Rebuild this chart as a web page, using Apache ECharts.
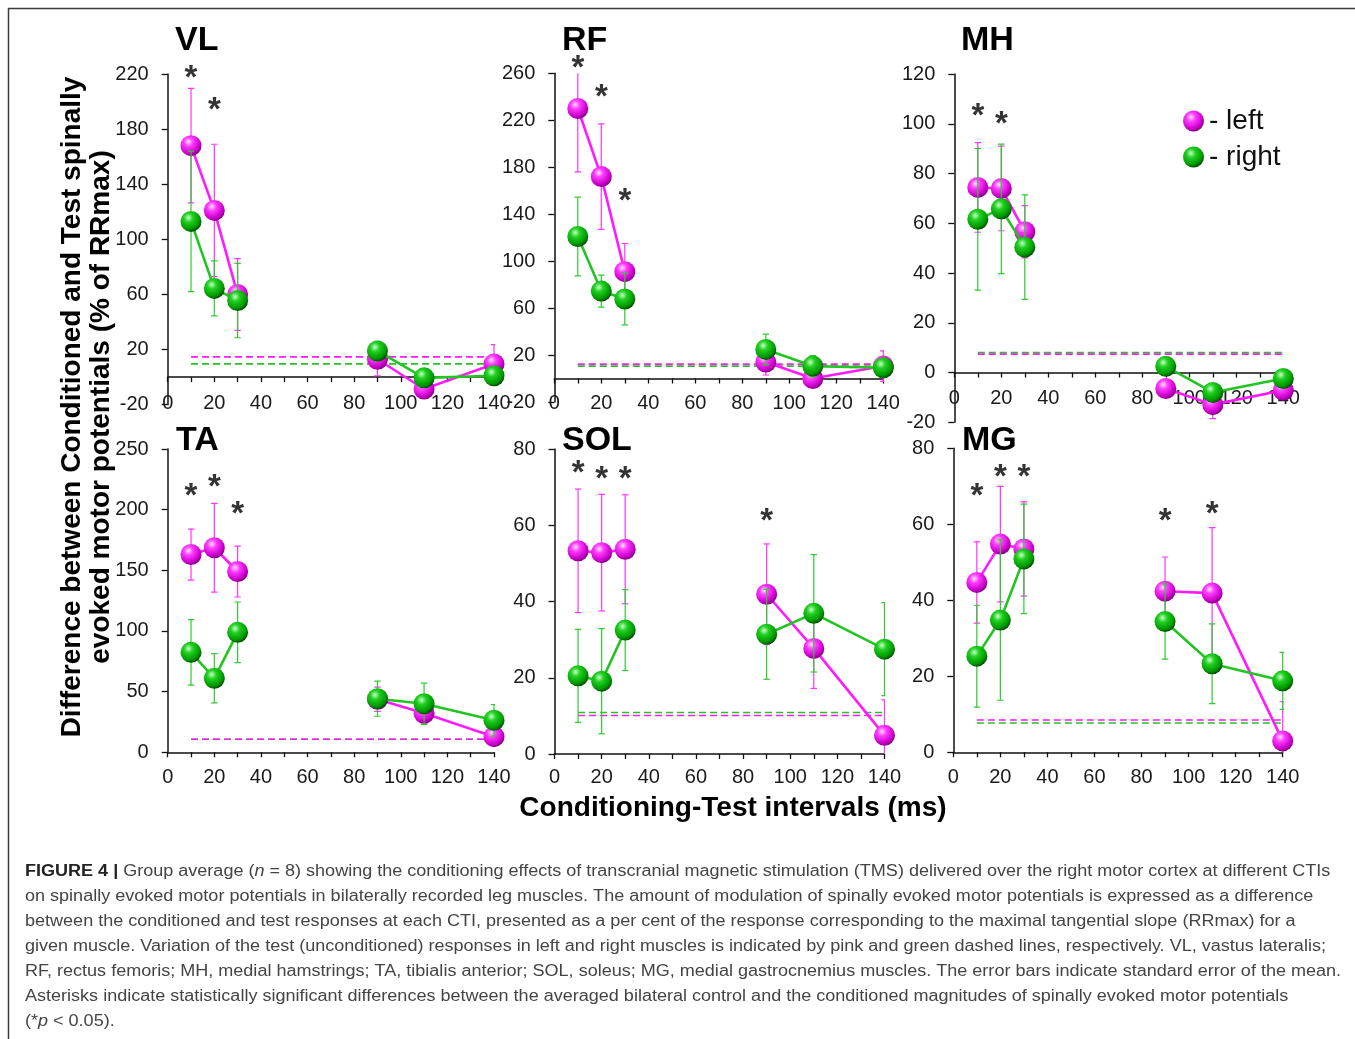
<!DOCTYPE html>
<html><head><meta charset="utf-8">
<script src="https://cdn.jsdelivr.net/npm/echarts@6/dist/echarts.min.js"></script>
<style>html,body{margin:0;padding:0;background:#fff}#c{width:1355px;height:1039px}</style>
</head><body><div id="c"></div>
<script>
// ---------- DATA ----------
const ctiX = [10, 20, 30, 90, 110, 140];
const xTickLabels = [0, 20, 40, 60, 80, 100, 120, 140];

// VL
const vlLeft = [168, 121, 60, 13, -8.6, 9.6];
const vlLeftSE = [41.5, 48, 26, 12, 4, 14];
const vlRight = [113, 64.4, 55.6, 19, -0.5, 1];
const vlRightSE = [51, 20, 27, 7, 3, 3];
const vlTest = [14.7, 9.6];          // [left, right]
const vlStarX = [10, 20];
const vlStarY = [219.8, 197.2];
const vlYTicks = [-20, 20, 60, 100, 140, 180, 220];

// RF
const rfLeft = [230, 172, 91, 14, 0, 10.6];
const rfLeftSE = [54, 45, 24, 11, 3, 13];
const rfRight = [121, 74.5, 67.7, 24.8, 10.6, 9.2];
const rfRightSE = [33.5, 13.6, 22, 13, 9, 3];
const rfTest = [12.3, 10.6];
const rfStarX = [10, 20, 30];
const rfStarY = [268, 243, 155];
const rfYTicks = [-20, 20, 60, 100, 140, 180, 220, 260];

// MH
const mhLeft = [74.4, 74, 56.6, -6.4, -12.9, -7.1];
const mhLeftSE = [18, 17, 10.5, 3, 5.6, 2];
const mhRight = [61.6, 65.8, 50.4, 2.5, -8, -2.4];
const mhRightSE = [28.5, 26, 21, 2, 2, 2];
const mhTest = [7.4, 8.0];
const mhStarX = [10, 20];
const mhStarY = [104.9, 101.5];
const mhYTicks = [-20, 0, 20, 40, 60, 80, 100, 120];

// TA
const taLeft = [163, 168.6, 149, 43.7, 32.1, 12.9];
const taLeftSE = [21, 36.5, 21, 10, 8, 5];
const taRight = [82.4, 61, 98.9, 44.2, 40, 26.4];
const taRightSE = [27, 20.3, 25, 14.5, 17, 13];
const taTest = [10.7, 10.7];
const taStarX = [10, 20, 30];
const taStarY = [214.8, 221.7, 199.7];
const taYTicks = [0, 50, 100, 150, 200, 250];

// SOL
const solLeft = [53.3, 52.8, 53.7, 41.9, 27.7, 4.9];
const solLeftSE = [16.2, 15.3, 14.3, 13.2, 10.5, 9.3];
const solRight = [20.5, 19.1, 32.5, 31.4, 36.9, 27.5];
const solRightSE = [12.2, 13.8, 10.6, 11.8, 15.4, 12.2];
const solTest = [10.1, 10.9];
const solStarX = [10, 20, 30, 90];
const solStarY = [74.9, 73.2, 73.2, 62.2];
const solYTicks = [0, 20, 40, 60, 80];

// MG
const mgLeft = [44.7, 54.8, 53.5, 42.4, 41.9, 3];
const mgLeftSE = [10.7, 15.2, 12.4, 9, 17.2, 10.3];
const mgRight = [25.3, 34.8, 50.9, 34.4, 23.3, 18.8];
const mgRightSE = [13.4, 21.1, 14.4, 9.9, 10.5, 7.5];
const mgTest = [8.5, 7.7];
const mgStarX = [10, 20, 30, 90, 110];
const mgStarY = [68.6, 73.4, 73.4, 62, 63.8];
const mgYTicks = [0, 20, 40, 60, 80];

const yTitleLines = ['Difference between Conditioned and Test spinally', 'evoked motor potentials (% of RRmax)'];
const xTitle = 'Conditioning-Test intervals (ms)';
const legendNames = ['left', 'right'];
const captionLines = [
  '{b|FIGURE 4 |} Group average ({i|n} = 8) showing the conditioning effects of transcranial magnetic stimulation (TMS) delivered over the right motor cortex at different CTIs',
  'on spinally evoked motor potentials in bilaterally recorded leg muscles. The amount of modulation of spinally evoked motor potentials is expressed as a difference',
  'between the conditioned and test responses at each CTI, presented as a per cent of the response corresponding to the maximal tangential slope (RRmax) for a',
  'given muscle. Variation of the test (unconditioned) responses in left and right muscles is indicated by pink and green dashed lines, respectively. VL, vastus lateralis;',
  'RF, rectus femoris; MH, medial hamstrings; TA, tibialis anterior; SOL, soleus; MG, medial gastrocnemius muscles. The error bars indicate standard error of the mean.',
  'Asterisks indicate statistically significant differences between the averaged bilateral control and the conditioned magnitudes of spinally evoked motor potentials',
  '(*{i|p} < 0.05).'
];

// ---------- LAYOUT / STYLE ----------
const FONT = '"Liberation Sans", Arial, Helvetica, sans-serif';
// labelTop: desired top pixel of x tick labels
const panels = [
  {name: 'VL', L: vlLeft, LE: vlLeftSE, R: vlRight, RE: vlRightSE, T: vlTest, SX: vlStarX, SY: vlStarY, ticks: vlYTicks,
   grid: {left: 167.7, top: 74, width: 326.3, height: 330.7}, title: [175, 41], labelTop: 393.5},
  {name: 'RF', L: rfLeft, LE: rfLeftSE, R: rfRight, RE: rfRightSE, T: rfTest, SX: rfStarX, SY: rfStarY, ticks: rfYTicks,
   grid: {left: 554.3, top: 73.3, width: 329, height: 328.7}, title: [562, 41], labelTop: 393.5},
  {name: 'MH', L: mhLeft, LE: mhLeftSE, R: mhRight, RE: mhRightSE, T: mhTest, SX: mhStarX, SY: mhStarY, ticks: mhYTicks,
   grid: {left: 954.3, top: 74, width: 329, height: 348.3}, title: [961, 41], labelTop: 388.5},
  {name: 'TA', L: taLeft, LE: taLeftSE, R: taRight, RE: taRightSE, T: taTest, SX: taStarX, SY: taStarY, ticks: taYTicks,
   grid: {left: 167.7, top: 449, width: 326.3, height: 303.3}, title: [176, 441], labelTop: 767.5},
  {name: 'SOL', L: solLeft, LE: solLeftSE, R: solRight, RE: solRightSE, T: solTest, SX: solStarX, SY: solStarY, ticks: solYTicks,
   grid: {left: 554.5, top: 449, width: 330, height: 305}, title: [562, 441], labelTop: 767.5},
  {name: 'MG', L: mgLeft, LE: mgLeftSE, R: mgRight, RE: mgRightSE, T: mgTest, SX: mgStarX, SY: mgStarY, ticks: mgYTicks,
   grid: {left: 953.3, top: 448.3, width: 329.4, height: 304}, title: [962, 441], labelTop: 767.5}
];

const MAG = '#ff1aff', GRN = '#22c422';
const magBall = {type: 'radial', x: 0.38, y: 0.32, r: 0.72, colorStops: [
  {offset: 0, color: '#ffe0ff'}, {offset: 0.3, color: '#ff3cff'}, {offset: 0.75, color: '#cc00cc'}, {offset: 1, color: '#7a007a'}]};
const grnBall = {type: 'radial', x: 0.38, y: 0.32, r: 0.72, colorStops: [
  {offset: 0, color: '#c8ffc8'}, {offset: 0.3, color: '#22d022'}, {offset: 0.75, color: '#009a00'}, {offset: 1, color: '#004000'}]};

function errRender(color) {
  return function (params, api) {
    const x = api.value(0), y = api.value(1), e = api.value(2);
    const t = api.coord([x, y + e]), b = api.coord([x, y - e]);
    const cw = 3.2, st = {stroke: color, lineWidth: 1.2};
    return {type: 'group', children: [
      {type: 'line', shape: {x1: t[0], y1: t[1], x2: b[0], y2: b[1]}, style: st},
      {type: 'line', shape: {x1: t[0] - cw, y1: t[1], x2: t[0] + cw, y2: t[1]}, style: st},
      {type: 'line', shape: {x1: b[0] - cw, y1: b[1], x2: b[0] + cw, y2: b[1]}, style: st}
    ]};
  };
}

// split the CTIs into separately connected runs (gap between 30 and 90 ms)
const runs = [];
ctiX.forEach((x, k) => {
  if (k === 0 || x - ctiX[k - 1] > 30) runs.push([]);
  runs[runs.length - 1].push(k);
});

const grids = [], xAxes = [], yAxes = [], series = [], graphics = [];
panels.forEach((p, i) => {
  grids.push(Object.assign({outerBoundsMode: 'none', containLabel: false}, p.grid));
  const gridBottom = p.grid.top + p.grid.height;
  xAxes.push({
    type: 'value', gridIndex: i, min: 0, max: 140, interval: 10,
    axisLine: {onZero: true, lineStyle: {color: '#111', width: 1.5}},
    axisTick: {show: true, length: 5, lineStyle: {color: '#111', width: 1.3}},
    axisLabel: {margin: p.labelTop - gridBottom, fontSize: 20, color: '#1a1a1a', fontFamily: FONT,
      formatter: v => (xTickLabels.indexOf(v) >= 0 ? String(v) : '')},
    splitLine: {show: false}
  });
  const tk = p.ticks;
  yAxes.push({
    type: 'value', gridIndex: i, min: tk[0], max: tk[tk.length - 1],
    axisLine: {show: true, onZero: false, lineStyle: {color: '#111', width: 1.5}},
    axisTick: {show: true, length: 6, customValues: tk, lineStyle: {color: '#111', width: 1.3}},
    axisLabel: {margin: 19, fontSize: 20, color: '#1a1a1a', fontFamily: FONT, customValues: tk},
    splitLine: {show: false}
  });
  // dashed test-response lines
  series.push({type: 'line', xAxisIndex: i, yAxisIndex: i, name: 'testR', data: [[ctiX[0], p.T[1]], [ctiX[ctiX.length - 1], p.T[1]]],
    symbol: 'none', silent: true, lineStyle: {color: GRN, width: 1.6, type: [7, 4]}, z: 1});
  series.push({type: 'line', xAxisIndex: i, yAxisIndex: i, name: 'testL', data: [[ctiX[0], p.T[0]], [ctiX[ctiX.length - 1], p.T[0]]],
    symbol: 'none', silent: true, lineStyle: {color: MAG, width: 1.6, type: [7, 4]}, z: 1});
  // left
  series.push({type: 'custom', xAxisIndex: i, yAxisIndex: i, name: 'errL', clip: true, silent: true,
    data: ctiX.map((x, k) => [x, p.L[k], p.LE[k]]), encode: {x: 0, y: 1}, renderItem: errRender('#ff33ff'), z: 2});
  runs.forEach(r => series.push({type: 'line', xAxisIndex: i, yAxisIndex: i, name: 'left', data: r.map(k => [ctiX[k], p.L[k]]),
    symbol: 'circle', symbolSize: 21, lineStyle: {color: MAG, width: 2.6}, itemStyle: {color: magBall, borderWidth: 0}, z: 3}));
  // right
  series.push({type: 'custom', xAxisIndex: i, yAxisIndex: i, name: 'errR', clip: true, silent: true,
    data: ctiX.map((x, k) => [x, p.R[k], p.RE[k]]), encode: {x: 0, y: 1}, renderItem: errRender('#2ccc2c'), z: 4});
  runs.forEach(r => series.push({type: 'line', xAxisIndex: i, yAxisIndex: i, name: 'right', data: r.map(k => [ctiX[k], p.R[k]]),
    symbol: 'circle', symbolSize: 21, lineStyle: {color: GRN, width: 2.6}, itemStyle: {color: grnBall, borderWidth: 0}, z: 5}));
  // asterisks
  series.push({type: 'scatter', xAxisIndex: i, yAxisIndex: i, name: 'sig', clip: false, silent: true,
    data: p.SX.map((x, k) => [x, p.SY[k]]), symbolSize: 2, itemStyle: {color: 'rgba(0,0,0,0)'},
    label: {show: true, position: 'inside', formatter: '*', fontSize: 33, fontWeight: 'bold', color: '#000',
      textBorderWidth: 0, fontFamily: FONT, offset: [0, 5]}, z: 6});
  // panel title
  graphics.push({type: 'text', x: p.title[0], y: p.title[1], style: {text: p.name, font: 'bold 34px ' + FONT, fill: '#000', align: 'left', verticalAlign: 'middle'}});
});

// axis titles
graphics.push({type: 'text', x: 87, y: 407, rotation: Math.PI / 2,
  style: {text: yTitleLines.join('\n'), font: 'bold 28px ' + FONT, fill: '#000', align: 'center', verticalAlign: 'middle', lineHeight: 29}});
graphics.push({type: 'text', x: 733, y: 808,
  style: {text: xTitle, font: 'bold 28px ' + FONT, fill: '#000', align: 'center', verticalAlign: 'middle'}});

// frame
graphics.push({type: 'polyline', shape: {points: [[8.5, 1039], [8.5, 8.5], [1355, 8.5]]}, style: {stroke: '#3a3a3a', lineWidth: 1.5, fill: null}});

// caption
const capFont = 16;
const ctx = document.createElement('canvas').getContext('2d');
ctx.font = capFont + 'px ' + FONT;
const plain1 = captionLines[0].replace(/\{b\|([^}]*)\}/g, '$1').replace(/\{i\|([^}]*)\}/g, '$1');
const sx = 1305 / ctx.measureText(plain1).width;
captionLines.forEach((ln, k) => {
  graphics.push({type: 'text', x: 25, y: 872 + k * 25, scaleX: sx, originX: 0,
    style: {text: ln, font: capFont + 'px ' + FONT, fill: '#444', align: 'left', verticalAlign: 'middle',
      rich: {b: {fontWeight: 'bold', fontSize: capFont, fontFamily: FONT, fill: '#222', color: '#222'},
             i: {fontStyle: 'italic', fontSize: capFont, fontFamily: FONT, fill: '#444', color: '#444'}}}});
});

const chart = echarts.init(document.getElementById('c'), null, {renderer: 'canvas'});
chart.setOption({
  animation: false,
  backgroundColor: '#fff',
  grid: grids, xAxis: xAxes, yAxis: yAxes, series: series,
  legend: {data: legendNames, orient: 'vertical', left: 1183, top: 107, padding: 0, itemWidth: 21, itemHeight: 21, itemGap: 8,
    icon: 'circle', selectedMode: false, formatter: n => '- ' + n,
    textStyle: {fontSize: 28, color: '#111', fontFamily: FONT, lineHeight: 21}},
  graphic: graphics
});
</script></body></html>
